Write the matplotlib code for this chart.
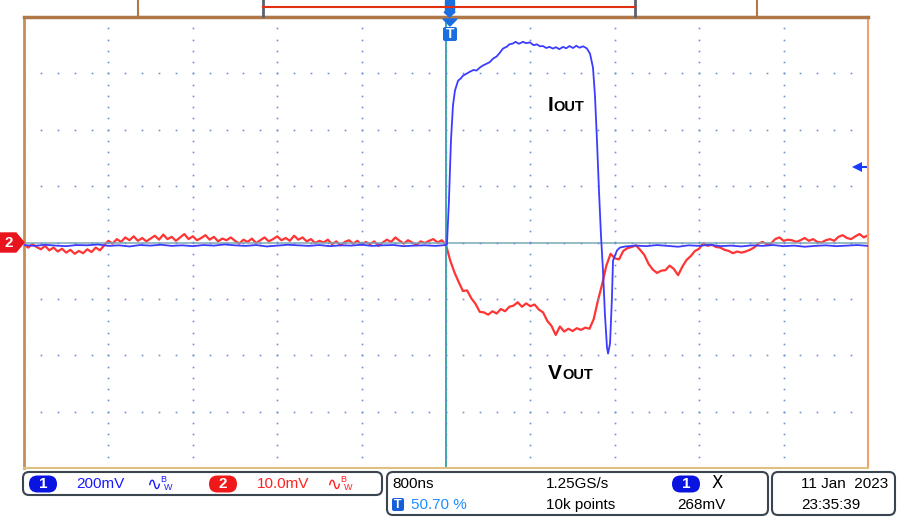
import numpy as np
import matplotlib
matplotlib.use('Agg')
import matplotlib.pyplot as plt
from matplotlib.patches import FancyBboxPatch, Rectangle, Polygon

# ajustes do osciloscopio
time_div_ns = 800
ch1_div_mv = 200
ch2_div_mv = 10
trig_level_mv = 268
trig_pos_pct = 50.70
sample_rate = '1.25GS/s'
n_points = '10k points'
date_txt = '11 Jan  2023'
time_txt = '23:35:39'

# canal 2 (vermelho, VOUT) em mV, amostras a cada 40 ns de -4000 a 4000 ns
red_pre = [-0.4, -0.9, -0.3, -0.8, -1.2, -0.6, -1.4, -0.9, -1.6, -1.1, -1.8,
           -1.3, -2.0, -1.5, -1.9, -1.2, -1.7, -0.9, -1.4,
           -0.5, 0.3, -0.2, 0.6, 0.1, 0.9, 0.4, 1.1, 0.3, 0.8, 0.2,
           0.7, 1.2, 0.5, 1.4, 0.6, 1.0, 0.3, 0.9, 1.5, 0.6,
           1.1, 0.4, 0.8, 1.3, 0.5, 1.0, 0.2, 0.7, 0.4, 0.9,
           0.3, -0.2, 0.5, 0.1, 0.7, -0.1, 0.4, 0.9, 0.2, 0.6,
           1.1, 0.4, 0.8, 0.3, 1.2, 0.5, 0.9, 0.2, 0.6, -0.1,
           0.3, 0.0, 0.5, -0.3, 0.2, -0.5, 0.1, 0.4, -0.2, 0.3,
           -0.4, 0.1, -0.3, 0.2, -0.6, 0.0, 0.5, 0.1, 0.9, 0.3,
           -0.2, 0.4, 0.0, -0.4, 0.2, -0.1, 0.3, 0.6, 0.0, 0.4]
red_post = [-0.4, -3.2, -5.3, -7.0, -8.6, -8.5, -9.9, -10.9, -12.3, -12.4,
            -12.8, -12.2, -12.6, -11.8, -12.2, -11.4, -11.2, -10.6, -11.4, -10.8,
            -11.3, -11.0, -11.9, -12.4, -13.9, -14.8, -16.4, -14.9, -15.8, -15.3,
            -15.7, -15.2, -15.5, -15.1, -15.3, -13.6, -10.3, -7.4, -4.1, -2.0,
            -2.8, -3.0, -1.5, -1.0, -0.8, -0.5, -1.3, -2.2, -3.8, -4.8,
            -5.4, -5.0, -4.9, -4.1, -4.7, -5.8, -4.3, -3.1, -2.4, -1.5,
            -1.1, -0.1, -0.6, -0.4, -0.8, -0.9, -1.3, -1.5, -1.9, -1.6,
            -1.8, -1.6, -1.3, -0.9, -0.2, 0.1, -0.3, -0.2, 0.6, 0.9,
            0.3, 0.5, 0.4, 0.1, 0.4, 0.8, 0.3, 0.6, 0.1, 0.0,
            0.4, 0.6, 0.3, 1.0, 1.3, 0.8, 0.6, 1.1, 1.5, 0.9,
            1.3]
red_mv = red_pre + red_post
red_t = np.linspace(-4000, 4000, len(red_mv))

# canal 1 (azul, IOUT) em mV
blue_pre = [-9, -12, -8, -11, -13, -9, -10, -7, -12, -10, -14, -9, -11, -8,
            -12, -10, -13, -9, -11, -7, -10, -12, -9, -14, -11, -8, -10, -12,
            -9, -13, -10, -11, -8, -12, -10, -9, -13, -11, -10, -12, -9]
blue_edge_t = [9, 28, 47, 66, 85, 114, 140, 161, 190, 227, 260, 290, 322, 350,
               389, 415, 445, 480, 512, 540, 578, 600, 635, 660, 690, 730, 760,
               796, 830, 863, 890, 919, 950, 980, 1014, 1040, 1075, 1109, 1140,
               1170, 1204, 1235, 1265, 1299, 1320, 1336, 1365, 1393, 1412, 1431,
               1450, 1469, 1488, 1507, 1526, 1536, 1555, 1573, 1583, 1621, 1649]
blue_edge_mv = [-7, 149, 362, 486, 539, 574, 582, 592, 598, 606, 612, 610, 621,
                628, 635, 640, 652, 660, 674, 688, 695, 703, 706, 712, 705, 712,
                707, 710, 700, 703, 696, 697, 690, 694, 688, 693, 686, 694, 689,
                697, 690, 698, 691, 696, 692, 688, 670, 621, 521, 362, 184, 25,
                -99, -259, -372, -394, -358, -195, -64, -28, -18]
blue_post = [-14, -11, -13, -9, -12, -15, -10, -12, -8, -13, -11, -14, -10, -12,
             -9, -13, -11, -15, -12, -10, -13, -11, -9, -12]
blue_t = np.concatenate([np.linspace(-4000, 0, len(blue_pre)), blue_edge_t,
                         np.linspace(1700, 4000, len(blue_post))])
blue_mv = np.concatenate([blue_pre, blue_edge_mv, blue_post])

blue = '#3c3cff'
red = '#ff3434'

fig = plt.figure(figsize=(9, 5.17), dpi=100)
fig.patch.set_facecolor('white')

ax = fig.add_axes([24/900, (517-468)/517, 844/900, 451/517])
ax.set_xlim(-5*time_div_ns, 5*time_div_ns)
ax.set_ylim(-4*ch1_div_mv, 4*ch1_div_mv)
ax2 = ax.twinx()
ax2.set_ylim(-4*ch2_div_mv, 4*ch2_div_mv)
for a in (ax, ax2):
    a.set_xticks([])
    a.set_yticks([])

# grade pontilhada
mx = np.arange(-5, 5.01, 0.2) * time_div_ns
my = np.arange(-4, 4.01, 0.2) * ch1_div_mv
for k in range(-4, 5):
    ax.plot(mx, np.full(len(mx), k*ch1_div_mv), ls='none', marker='s', ms=1.2,
            color='#6f8fd8', mew=0)
for k in range(-5, 6):
    ax.plot(np.full(len(my), k*time_div_ns), my, ls='none', marker='s', ms=1.2,
            color='#6f8fd8', mew=0)
ax.axhline(0, color='#7aa8b4', lw=1.1, zorder=1)
ax.axvline(0, color='#2aa2aa', lw=1.3, zorder=1)

# curvas
ax2.plot(red_t, red_mv, color=red, lw=1.6, zorder=3)
ax.plot(blue_t, blue_mv, color=blue, lw=1.3, zorder=4)
ax.set_zorder(ax2.get_zorder() + 1)
ax.patch.set_visible(False)

# nivel de trigger (seta azul a direita)
ax.plot([3880, 4000], [trig_level_mv, trig_level_mv], color='#1a3cff', lw=1.5)
ax.plot(3900, trig_level_mv, marker='<', ms=7, color='#1a3cff', mew=0)

# rotulos
lab = dict(color='black', fontweight='bold', family='Liberation Sans', va='baseline')
ax.text(967, 468, 'I', fontsize=15, **lab)
ax.text(1015, 468, 'OUT', fontsize=10.5, **lab)
ax.text(967, -486, 'V', fontsize=15, **lab)
ax.text(1100, -486, 'OUT', fontsize=10.5, **lab)

ax.spines['left'].set_color('#c89050')
ax.spines['left'].set_linewidth(2)
ax.spines['right'].set_color('#f4a070')
ax.spines['right'].set_linewidth(1.5)
ax.spines['top'].set_color('#b07848')
ax.spines['top'].set_linewidth(2.5)
ax.spines['bottom'].set_color('#e0c080')
ax.spines['bottom'].set_linewidth(1.5)
for s in ax2.spines.values():
    s.set_visible(False)

# camada em pixels para os paineis do osciloscopio
ov = fig.add_axes([0, 0, 1, 1], zorder=10)
ov.set_xlim(0, 900)
ov.set_ylim(517, 0)
ov.axis('off')
ov.patch.set_alpha(0)

ov.add_patch(Rectangle((138, -2), 619, 19, fill=False, ec='#b07848', lw=1.5))
ov.plot([263, 263], [0, 16], color='#5a6270', lw=2)
ov.plot([635, 635], [0, 16], color='#5a6270', lw=2)
ov.plot([263, 635], [7, 7], color='#e03010', lw=1.5)
ov.add_patch(Rectangle((445, 0), 9, 12, color='#1a6ee0'))
ov.add_patch(Polygon([(444, 12), (455, 12), (449.5, 17)], color='#1a6ee0'))
ov.add_patch(Polygon([(443, 19), (457, 19), (450, 26)], color='#1a6ee0'))
ov.add_patch(FancyBboxPatch((443, 27), 14, 14, boxstyle='round,pad=0,rounding_size=2',
                            fc='#1a6ee0', ec='none'))
ov.text(450, 34.5, 'T', color='white', fontsize=10, fontweight='bold',
        ha='center', va='center', family='Liberation Sans')

ov.add_patch(Polygon([(0, 233), (16, 233), (24, 242.5), (16, 252), (0, 252)],
                     color='#e8141e'))
ov.text(9, 243, '2', color='white', fontsize=11, fontweight='bold',
        ha='center', va='center', family='Liberation Sans')

box = dict(boxstyle='round,pad=0,rounding_size=6', fc='white', ec='#3a4550', lw=1.5)
ov.add_patch(FancyBboxPatch((23, 472), 359, 23, **box))
ov.add_patch(FancyBboxPatch((387, 472), 381, 43, **box))
ov.add_patch(FancyBboxPatch((772, 472), 123, 43, **box))

def pill(x, y, txt, col):
    ov.add_patch(FancyBboxPatch((x, y), 28, 17, boxstyle='round,pad=0,rounding_size=8.5',
                                fc=col, ec='none'))
    ov.text(x + 14, y + 9, txt, color='white', fontsize=11, fontweight='bold',
            ha='center', va='center', family='Liberation Sans')

def bw(x, y, col):
    ov.text(x, y + 1, '\u223f', color=col, fontsize=13, va='center', family='DejaVu Sans')
    ov.text(x + 14, y - 4, 'B', color=col, fontsize=6.5, va='center', family='Liberation Sans')
    ov.text(x + 18, y + 3, 'W', color=col, fontsize=6.5, va='center', family='Liberation Sans')

st = dict(fontsize=11, va='center', family='Liberation Sans')
pill(29, 475.5, '1', '#0a14e0')
ov.text(76, 484, f'{ch1_div_mv}mV', color='#1a1aff', **st)
bw(146, 484, '#1a1aff')
pill(209, 475.5, '2', '#f01818')
ov.text(257, 484, f'{ch2_div_mv:.1f}mV', color='#ff2020', **st)
bw(326, 484, '#ff2020')

ov.text(392, 484, f'{time_div_ns}ns', color='black', **st)
ov.text(546, 484, sample_rate, color='black', **st)
pill(672, 475.5, '1', '#0a14e0')
ov.text(712, 483, 'X', color='black', fontsize=12, va='center', family='DejaVu Sans')
ov.add_patch(FancyBboxPatch((392, 498), 12, 13, boxstyle='round,pad=0,rounding_size=2',
                            fc='#1560d8', ec='none'))
ov.text(398, 505, 'T', color='white', fontsize=9, fontweight='bold',
        ha='center', va='center', family='Liberation Sans')
ov.text(411, 505, f'{trig_pos_pct:.2f} %', color='#1e8fff', **st)
ov.text(546, 505, n_points, color='black', **st)
ov.text(677, 505, f'{trig_level_mv}mV', color='black', **st)

ov.text(801, 484, date_txt, color='black', **st)
ov.text(801, 505, time_txt, color='black', **st)

fig.savefig('out.png', dpi=100, facecolor='white')
